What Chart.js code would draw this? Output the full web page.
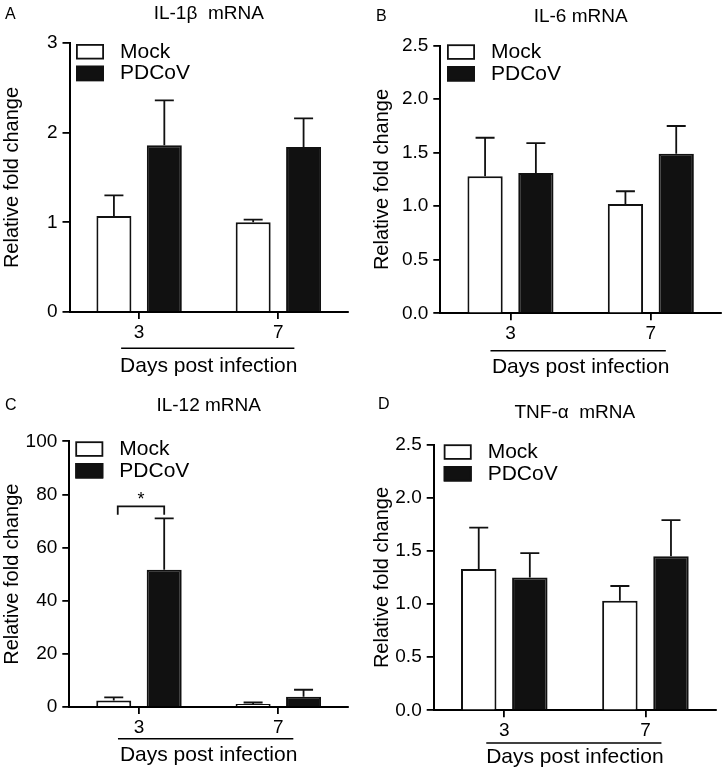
<!DOCTYPE html>
<html><head><meta charset="utf-8">
<script src="https://cdn.jsdelivr.net/npm/chart.js@4.4.1/dist/chart.umd.min.js"></script>
<style>
html,body{margin:0;padding:0;background:#fff;}
#wrap{position:relative;width:722px;height:774px;background:#fff;}
.p{position:absolute;width:361px;height:387px;}
canvas{display:block;}
</style></head><body>
<div id="wrap">
<div class="p" style="left:0;top:0"><canvas id="cA" width="361" height="387"></canvas></div>
<div class="p" style="left:361px;top:0"><canvas id="cB" width="361" height="387"></canvas></div>
<div class="p" style="left:0;top:387px"><canvas id="cC" width="361" height="387"></canvas></div>
<div class="p" style="left:361px;top:387px"><canvas id="cD" width="361" height="387"></canvas></div>
</div>
<script>
// ---- data ----
const categories = ['3', '7'];
const seriesNames = ['Mock', 'PDCoV'];
const xAxisTitle = 'Days post infection';
const yAxisTitle = 'Relative fold change';

const il1bMock = [1.07, 1.00];
const il1bMockErr = [0.23, 0.03];
const il1bPdcov = [1.86, 1.84];
const il1bPdcovErr = [0.50, 0.32];
const il1bTicks = ['0', '1', '2', '3'];

const il6Mock = [1.28, 1.02];
const il6MockErr = [0.36, 0.12];
const il6Pdcov = [1.31, 1.49];
const il6PdcovErr = [0.28, 0.26];
const il6Ticks = ['0.0', '0.5', '1.0', '1.5', '2.0', '2.5'];

const il12Mock = [2.4, 1.1];
const il12MockErr = [1.2, 0.6];
const il12Pdcov = [51.7, 3.9];
const il12PdcovErr = [19.3, 2.6];
const il12Ticks = ['0', '20', '40', '60', '80', '100'];

const tnfMock = [1.33, 1.03];
const tnfMockErr = [0.39, 0.14];
const tnfPdcov = [1.25, 1.45];
const tnfPdcovErr = [0.23, 0.34];
const tnfTicks = ['0.0', '0.5', '1.0', '1.5', '2.0', '2.5'];

// significance marker (panel C): between Mock and PDCoV at day 3
const il12Bracket = { category: 0, top: 75.5, leg: 72.4, label: '*', labelAt: 79.5 };

// ---- layout / style ----
const FONT = "'Liberation Sans', Arial, Helvetica, sans-serif";
const W = 361, H = 387;
Chart.defaults.font.family = FONT;
Chart.defaults.color = '#000';

const panels = [
  { id: 'cA', letter: 'A', title: 'IL-1β  mRNA', mock: il1bMock, mockErr: il1bMockErr, pdcov: il1bPdcov, pdcovErr: il1bPdcovErr,
    ticks: il1bTicks, max: 3, step: 1,
    area: { left: 69.5, right: 348, top: 43, bottom: 312 }, titleY: 13.5, letterPos: [5, 14.5],
    yTitleX: 12, xTitleY: 366, underline: { dy: 36.3, l: -18, r: 16 }, legend: { dx: 6.5, dy: 1 }, bracket: null },
  { id: 'cB', letter: 'B', title: 'IL-6 mRNA', mock: il6Mock, mockErr: il6MockErr, pdcov: il6Pdcov, pdcovErr: il6PdcovErr,
    ticks: il6Ticks, max: 2.5, step: 0.5,
    area: { left: 79.3, right: 360, top: 45.7, bottom: 313.3 }, titleY: 16.5, letterPos: [15, 16.5],
    yTitleX: 21, xTitleY: 367, underline: { dy: 37.4, l: -20, r: 15 }, legend: { dx: 6.7, dy: -1.4 }, bracket: null },
  { id: 'cC', letter: 'C', title: 'IL-12 mRNA', mock: il12Mock, mockErr: il12MockErr, pdcov: il12Pdcov, pdcovErr: il12PdcovErr,
    ticks: il12Ticks, max: 100, step: 20,
    area: { left: 69.3, right: 348, top: 54.3, bottom: 320 }, titleY: 19, letterPos: [5, 19],
    yTitleX: 12, xTitleY: 368, underline: { dy: 31.7, l: -21, r: 15 }, legend: { dx: 6, dy: 0 }, bracket: il12Bracket },
  { id: 'cD', letter: 'D', title: 'TNF-α  mRNA', mock: tnfMock, mockErr: tnfMockErr, pdcov: tnfPdcov, pdcovErr: tnfPdcovErr,
    ticks: tnfTicks, max: 2.5, step: 0.5,
    area: { left: 72.7, right: 355, top: 57.7, bottom: 323.3 }, titleY: 26, letterPos: [17, 17.5],
    yTitleX: 21, xTitleY: 370, underline: { dy: 32.7, l: -18, r: 16 }, legend: { dx: 10, dy: -0.4 }, bracket: null }
];

const decorPlugin = {
  id: 'decor',
  afterDatasetsDraw(chart, args, opts) {
    const p = opts.panel;
    const ctx = chart.ctx;
    const ys = chart.scales.y, xs = chart.scales.x;
    ctx.save();
    // error bars (upper only)
    const errs = [p.mockErr, p.pdcovErr];
    ctx.strokeStyle = '#111';
    ctx.lineWidth = 1.8;
    chart.data.datasets.forEach((ds, di) => {
      const meta = chart.getDatasetMeta(di);
      meta.data.forEach((bar, j) => {
        const yTop = ys.getPixelForValue(ds.data[j] + errs[di][j]);
        ctx.beginPath();
        ctx.moveTo(bar.x, bar.y);
        ctx.lineTo(bar.x, yTop);
        ctx.moveTo(bar.x - 9.5, yTop);
        ctx.lineTo(bar.x + 9.5, yTop);
        ctx.stroke();
      });
    });
    // significance bracket
    if (p.bracket) {
      const b = p.bracket;
      const x1 = chart.getDatasetMeta(0).data[b.category].x + 4;
      const x2 = chart.getDatasetMeta(1).data[b.category].x;
      const yT = ys.getPixelForValue(b.top), yL = ys.getPixelForValue(b.leg);
      ctx.beginPath();
      ctx.moveTo(x1, yL); ctx.lineTo(x1, yT); ctx.lineTo(x2, yT); ctx.lineTo(x2, yL);
      ctx.stroke();
      ctx.fillStyle = '#000';
      ctx.font = '18px ' + FONT;
      ctx.textAlign = 'center';
      ctx.textBaseline = 'middle';
      ctx.fillText(b.label, (x1 + x2) / 2, ys.getPixelForValue(b.labelAt) + 4);
    }
    // underline above x-axis title
    const ul = p.underline;
    const uy = chart.chartArea.bottom + ul.dy;
    ctx.strokeStyle = '#000';
    ctx.lineWidth = 1.5;
    ctx.beginPath();
    ctx.moveTo(xs.getPixelForValue(0) + ul.l, uy);
    ctx.lineTo(xs.getPixelForValue(1) + ul.r, uy);
    ctx.stroke();
    // legend
    const ca = chart.chartArea;
    ctx.font = '21px ' + FONT;
    ctx.textAlign = 'left';
    ctx.textBaseline = 'middle';
    chart.data.datasets.forEach((ds, di) => {
      const bx = ca.left + p.legend.dx, by = ca.top + p.legend.dy + di * 21.7;
      ctx.fillStyle = ds.backgroundColor;
      ctx.fillRect(bx, by, 28, 15.5);
      ctx.strokeStyle = ds.borderColor;
      ctx.lineWidth = 1.8;
      ctx.strokeRect(bx + 0.9, by + 0.9, 26.2, 13.7);
      ctx.fillStyle = '#000';
      ctx.fillText(ds.label, bx + 28 + 16, by + 8);
    });
    // panel letter
    ctx.font = '16px ' + FONT;
    ctx.fillText(p.letter, p.letterPos[0], p.letterPos[1]);
    ctx.restore();
  }
};

panels.forEach(p => {
  const a = p.area;
  const tPadTop = p.titleY - 11.4;
  new Chart(document.getElementById(p.id), {
    type: 'bar',
    data: {
      labels: categories,
      datasets: [
        { label: seriesNames[0], data: p.mock, backgroundColor: '#ffffff', borderColor: '#111111', borderWidth: 2,
          barPercentage: 0.694, categoryPercentage: 0.724 },
        { label: seriesNames[1], data: p.pdcov, backgroundColor: '#111111', borderColor: '#111111', borderWidth: 2,
          barPercentage: 0.694, categoryPercentage: 0.724 }
      ]
    },
    options: {
      responsive: false,
      animation: false,
      events: [],
      layout: { padding: { left: 0, right: W - a.right, top: 0, bottom: 0 } },
      plugins: {
        legend: { display: false },
        tooltip: { enabled: false },
        title: {
          display: true, text: p.title, fullSize: false, align: 'center', color: '#000',
          font: { size: 19, weight: 'normal', family: FONT },
          padding: { top: tPadTop, bottom: a.top - 22.8 - tPadTop }
        },
        decor: { panel: p }
      },
      scales: {
        x: {
          type: 'category',
          offset: true,
          afterFit: (s) => { s.height = H - a.bottom; },
          grid: { display: true, drawOnChartArea: false, drawTicks: true, tickLength: 7, offset: false, color: '#000', lineWidth: 1.8 },
          border: { display: true, color: '#000', width: 2 },
          ticks: { font: { size: 19, family: FONT }, color: '#000', padding: 2, maxRotation: 0 },
          title: { display: true, text: xAxisTitle, color: '#000', font: { size: 21, family: FONT },
                   padding: { top: 0, bottom: H - p.xTitleY - 12.6 } }
        },
        y: {
          min: 0, max: p.max,
          afterFit: (s) => { s.width = a.left; },
          grid: { display: true, drawOnChartArea: false, drawTicks: true, tickLength: 7, color: '#000', lineWidth: 1.8 },
          border: { display: true, color: '#000', width: 2 },
          ticks: { stepSize: p.step, font: { size: 19, family: FONT }, color: '#000', padding: 5,
                   callback: (v, i) => p.ticks[i] },
          title: { display: true, text: yAxisTitle, color: '#000', font: { size: 20, family: FONT },
                   padding: { top: Math.max(0, p.yTitleX - 12), bottom: 0 } }
        }
      }
    },
    plugins: [decorPlugin]
  });
});
</script>
</body></html>
